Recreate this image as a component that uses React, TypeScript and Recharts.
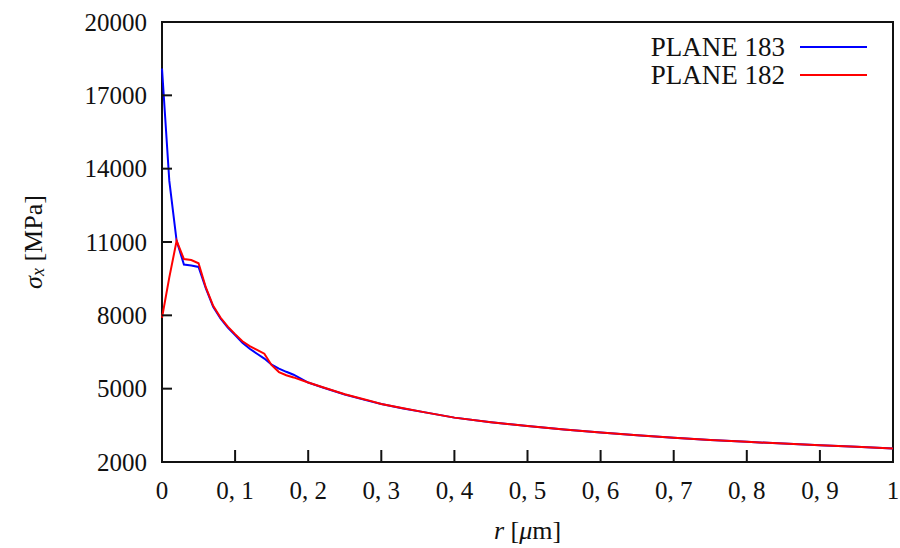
import {
  Line,
  LineChart,
  ReferenceArea,
  XAxis,
  YAxis,
} from "recharts";

const rValues = [
  0, 0.01, 0.02, 0.03, 0.04, 0.05, 0.06, 0.07, 0.08, 0.09, 0.1, 0.11, 0.12,
  0.13, 0.14, 0.15, 0.16, 0.17, 0.18, 0.2, 0.22, 0.25, 0.28, 0.3, 0.33, 0.36,
  0.4, 0.45, 0.5, 0.55, 0.6, 0.65, 0.7, 0.75, 0.8, 0.85, 0.9, 0.95, 1.0,
];

const plane183 = [
  18100, 13500, 11050, 10080, 10040, 9980, 9100, 8350, 7870, 7500, 7190, 6880,
  6630, 6430, 6230, 5980, 5820, 5690, 5570, 5250, 5050, 4760, 4520, 4370, 4190,
  4030, 3815, 3630, 3470, 3330, 3210, 3095, 2990, 2900, 2825, 2755, 2690, 2620,
  2557,
];

const plane182 = [
  7900, 9550, 11050, 10300, 10260, 10130, 9140, 8390, 7910, 7540, 7230, 6940,
  6740, 6590, 6430, 5960, 5680, 5550, 5460, 5250, 5060, 4770, 4540, 4370, 4200,
  4030, 3815, 3630, 3470, 3330, 3210, 3095, 2990, 2900, 2825, 2755, 2690, 2620,
  2557,
];

const xTicks = [0, 0.1, 0.2, 0.3, 0.4, 0.5, 0.6, 0.7, 0.8, 0.9, 1];
const xTickLabels = [
  "0", "0, 1", "0, 2", "0, 3", "0, 4", "0, 5", "0, 6", "0, 7", "0, 8", "0, 9", "1",
];
const yTicks = [2000, 5000, 8000, 11000, 14000, 17000, 20000];

const seriesNames = ["PLANE 183", "PLANE 182"];
const seriesColors = ["#0000ff", "#ff0000"];

const data = rValues.map((r, i) => ({
  r,
  p183: plane183[i],
  p182: plane182[i],
}));

const FONT = "'Liberation Serif', 'DejaVu Serif', serif";
const textStyle = { fontFamily: FONT, fontSize: 25, fill: "#111" };

function YTick(props: any) {
  const { x, y, payload } = props;
  const axisX = x + 15;
  return (
    <g>
      {payload.value !== 2000 && payload.value !== 20000 && (
        <line x1={axisX} x2={axisX + 10} y1={y} y2={y} stroke="#111" strokeWidth={2} />
      )}
      <text x={x} y={y} textAnchor="end" dominantBaseline="central" style={textStyle}>
        {payload.value}
      </text>
    </g>
  );
}

function XTick(props: any) {
  const { x, y, payload, index } = props;
  const axisY = y - 28;
  const edge = payload.value === 0 || payload.value === 1;
  return (
    <g>
      {!edge && (
        <line x1={x} x2={x} y1={axisY} y2={axisY - 12} stroke="#111" strokeWidth={2} />
      )}
      <text x={x} y={y} textAnchor="middle" dominantBaseline="central" style={textStyle}>
        {xTickLabels[index] ?? payload.value}
      </text>
    </g>
  );
}

function YLabel({ viewBox }: any) {
  const cx = 33;
  const cy = viewBox.y + viewBox.height / 2;
  return (
    <text
      transform={`translate(${cx},${cy}) rotate(-90)`}
      textAnchor="middle"
      dominantBaseline="central"
      style={{ ...textStyle, fontSize: 26 }}
    >
      <tspan style={{ fontStyle: "italic" }}>σ</tspan>
      <tspan style={{ fontStyle: "italic", fontSize: 18 }} dy={5}>x</tspan>
      <tspan dy={-5}> [MPa]</tspan>
    </text>
  );
}

function XLabel({ viewBox }: any) {
  const cx = viewBox.x + viewBox.width / 2;
  return (
    <text
      x={cx}
      y={viewBox.y + 68}
      textAnchor="middle"
      dominantBaseline="central"
      style={{ ...textStyle, fontSize: 26 }}
    >
      <tspan style={{ fontStyle: "italic" }}>r</tspan>
      <tspan> [</tspan>
      <tspan style={{ fontStyle: "italic" }}>μ</tspan>
      <tspan>m]</tspan>
    </text>
  );
}

function LegendBox() {
  return (
    <div
      style={{
        position: "absolute",
        top: 33,
        left: 560,
        width: 307,
        fontFamily: FONT,
        fontSize: 27,
        color: "#111",
      }}
    >
      {seriesNames.map((name, i) => (
        <div
          key={name}
          style={{
            display: "flex",
            justifyContent: "flex-end",
            alignItems: "center",
            height: 28,
          }}
        >
          <span>{name}</span>
          <span
            style={{
              display: "inline-block",
              width: 67,
              height: 2,
              marginLeft: 15,
              background: seriesColors[i],
            }}
          />
        </div>
      ))}
    </div>
  );
}

export default function App() {
  return (
    <div
      style={{
        position: "absolute",
        left: 0,
        top: 0,
        width: 900,
        height: 548,
        background: "#fff",
      }}
    >
      <LineChart
        width={900}
        height={548}
        data={data}
        margin={{ top: 22, right: 7, bottom: 0, left: 0 }}
      >
        <XAxis
          dataKey="r"
          type="number"
          domain={[0, 1]}
          ticks={xTicks}
          tickSize={0}
          tickMargin={28}
          axisLine={false}
          tick={<XTick />}
          height={86}
          interval={0}
          label={<XLabel />}
        />
        <YAxis
          type="number"
          domain={[2000, 20000]}
          ticks={yTicks}
          tickSize={0}
          tickMargin={15}
          axisLine={false}
          tick={<YTick />}
          width={162}
          interval={0}
          label={<YLabel />}
        />
        <ReferenceArea
          x1={0}
          x2={1}
          y1={2000}
          y2={20000}
          fill="none"
          stroke="#111"
          strokeWidth={2}
        />
        <Line
          dataKey="p183"
          name={seriesNames[0]}
          type="linear"
          stroke={seriesColors[0]}
          strokeWidth={2}
          dot={false}
          isAnimationActive={false}
        />
        <Line
          dataKey="p182"
          name={seriesNames[1]}
          type="linear"
          stroke={seriesColors[1]}
          strokeWidth={2}
          dot={false}
          isAnimationActive={false}
        />
      </LineChart>
      <LegendBox />
    </div>
  );
}
